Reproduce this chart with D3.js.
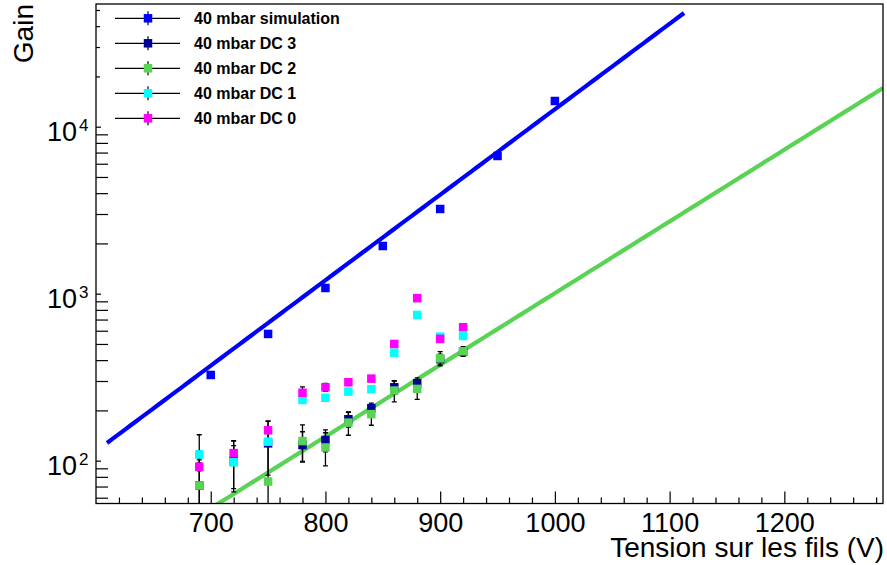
<!DOCTYPE html>
<html>
<head>
<meta charset="utf-8">
<script src="https://cdn.jsdelivr.net/npm/d3@7"></script>
<style>
  html, body { margin: 0; padding: 0; background: #ffffff; }
  text { font-family: "Liberation Sans", Arial, Helvetica, sans-serif; fill: #000; }
</style>
</head>
<body>
<svg id="chart" width="887" height="565"></svg>
<script>
// Wire voltages (V) for the measured detector channels and the simulation
const dcVoltage  = [690, 720, 750, 780, 800, 820, 840, 860, 880, 900, 920];
const simVoltage = [700, 750, 800, 850, 900, 950, 1000];

// Gain values and their uncertainties
const simGain = [326, 574, 1082, 1930, 3215, 6677, 14255];
const simErr  = [10, 16, 25, 40, 60, 120, 250];

const dc3Gain = [71, 100, 127, 124, 133, 177, 206, 275, 291, 405, 450];
const dc3Err  = [30, 32, 45, 25, 20, 18, 15, 25, 22, 30, 25];

const dc2Gain = [71, 98, 75, 131, 120, 169, 190, 263, 269, 410, 452];
const dc2Err  = [72, 33, 50, 33, 27, 27, 27, 38, 36, 40, 30];

const dc1Gain = [109, 98, 130, 231, 238, 259, 268, 443, 746, 553, 558];
const dc1Err  = [5, 4, 5, 0, 0, 0, 0, 0, 0, 0, 0];

const dc0Gain = [92, 111, 152, 255, 275, 295, 310, 500, 940, 536, 630];
const dc0Err  = [5, 12, 21, 22, 15, 12, 12, 0, 0, 0, 0];

// Exponential fits: gain = exp(p0 + p1 * V)
const simFit = { p0: -2.3367, p1: 0.011788, from: 609.6, to: 1112.6 };
const dcFit  = { p0: -2.9750, p1: 0.009890, from: 600,   to: 1286 };

// Axis ticks and labels
const xMajorTicks = [700, 800, 900, 1000, 1100, 1200];
const xTickLabels = ["700", "800", "900", "1000", "1100", "1200"];
const yDecades    = [100, 1000, 10000];
const yExponents  = ["2", "3", "4"];
const yMinorLong  = [60, 70, 80, 90, 200, 300, 400, 500, 600, 700, 800, 900,
                     2000, 3000, 4000, 5000, 6000, 7000, 8000, 9000];
const yMinorShort = [20000, 30000, 40000, 50000];

const legendNames  = ["40 mbar simulation", "40 mbar DC 3", "40 mbar DC 2", "40 mbar DC 1", "40 mbar DC 0"];
const legendColors = ["#0000ff", "#000099", "#59d354", "#00ffff", "#ff00ff"];

const xLabel = "Tension sur les fils (V)";
const yLabel = "Gain";

// ---------------------------------------------------------------------------
const svg = d3.select("#chart");
const frame = { left: 96, right: 883, top: 4, bottom: 503.5 };

const x = d3.scaleLinear().domain([600, 1286]).range([frame.left, frame.right]);
const y = d3.scaleLog().domain([55.4, 54300]).range([frame.bottom, frame.top]);

svg.append("defs").append("clipPath").attr("id", "plotClip")
  .append("rect")
  .attr("x", frame.left).attr("y", frame.top)
  .attr("width", frame.right - frame.left).attr("height", frame.bottom - frame.top);

// Bottom axis: minor ticks every 20 V, major every 100 V
const xMinorTicks = d3.range(620, 1286, 20).filter(v => v % 100 !== 0);
svg.append("g")
  .attr("transform", `translate(0,${frame.bottom})`)
  .call(d3.axisBottom(x).tickValues(xMinorTicks).tickSize(-6).tickFormat(""))
  .call(g => g.select(".domain").remove())
  .call(g => g.selectAll("line").attr("stroke", "#000").attr("stroke-width", 1.2));

const xAxisMajor = svg.append("g")
  .attr("transform", `translate(0,${frame.bottom})`)
  .call(d3.axisBottom(x).tickValues(xMajorTicks).tickSize(-12)
    .tickFormat((d, i) => xTickLabels[i]))
  .call(g => g.select(".domain").remove())
  .call(g => g.selectAll("line").attr("stroke", "#000").attr("stroke-width", 1.2));
xAxisMajor.selectAll("text")
  .attr("y", 28.5).attr("dy", null)
  .attr("font-size", 27).attr("fill", "#000")
  .style("font-family", '"Liberation Sans", Arial, Helvetica, sans-serif');

// Left axis (log)
function yTicks(values, len) {
  svg.append("g")
    .attr("transform", `translate(${frame.left},0)`)
    .call(d3.axisLeft(y).tickValues(values).tickSize(-len).tickFormat(""))
    .call(g => g.select(".domain").remove())
    .call(g => g.selectAll("line").attr("stroke", "#000").attr("stroke-width", 1.2));
}
yTicks(yMinorLong, 12);
yTicks(yDecades, 5);
yTicks(yMinorShort, 4);

const yLab = svg.append("g");
yDecades.forEach((d, i) => {
  const yy = y(d);
  yLab.append("text")
    .attr("x", 77).attr("y", yy + 14)
    .attr("text-anchor", "end").attr("font-size", 27)
    .text("10");
  yLab.append("text")
    .attr("x", 79).attr("y", yy + 4)
    .attr("text-anchor", "start").attr("font-size", 17)
    .text(yExponents[i]);
});

// Axis titles
svg.append("text")
  .attr("x", 884).attr("y", 557)
  .attr("text-anchor", "end").attr("font-size", 28)
  .text(xLabel);
svg.append("text")
  .attr("transform", "translate(33,4) rotate(-90)")
  .attr("text-anchor", "end").attr("font-size", 28)
  .text(yLabel);

// Plot content
const plot = svg.append("g").attr("clip-path", "url(#plotClip)");

function fitLine(fit, color) {
  const pts = d3.range(0, 101).map(k => fit.from + (fit.to - fit.from) * k / 100);
  const line = d3.line()
    .x(v => x(v))
    .y(v => y(Math.exp(fit.p0 + fit.p1 * v)));
  plot.append("path").datum(pts)
    .attr("d", line)
    .attr("fill", "none")
    .attr("stroke", color)
    .attr("stroke-width", 4.2);
}

function errorBars(vs, gains, errs) {
  const g = plot.append("g").attr("stroke", "#000").attr("stroke-width", 1.3);
  vs.forEach((v, i) => {
    const e = errs[i];
    if (!e) return;
    const px = x(v);
    const hi = y(gains[i] + e);
    const loVal = gains[i] - e;
    const lo = loVal > 1 ? y(loVal) : frame.bottom + 10;
    g.append("line").attr("x1", px).attr("x2", px).attr("y1", hi).attr("y2", lo);
    g.append("line").attr("x1", px - 2.5).attr("x2", px + 2.5).attr("y1", hi).attr("y2", hi);
    if (loVal > 1) g.append("line").attr("x1", px - 2.5).attr("x2", px + 2.5).attr("y1", lo).attr("y2", lo);
  });
}

function markers(vs, gains, color) {
  const s = 8.5;
  plot.append("g").selectAll("rect")
    .data(vs.map((v, i) => [v, gains[i]]))
    .join("rect")
    .attr("x", d => x(d[0]) - s / 2)
    .attr("y", d => y(d[1]) - s / 2)
    .attr("width", s).attr("height", s)
    .attr("fill", color);
}

fitLine(simFit, legendColors[0]);
fitLine(dcFit, legendColors[2]);

errorBars(simVoltage, simGain, simErr);
markers(simVoltage, simGain, legendColors[0]);

const dcSeries = [
  [dc3Gain, dc3Err, legendColors[1]],
  [dc2Gain, dc2Err, legendColors[2]],
  [dc1Gain, dc1Err, legendColors[3]],
  [dc0Gain, dc0Err, legendColors[4]]
];
dcSeries.forEach(([g, e]) => errorBars(dcVoltage, g, e));
dcSeries.forEach(([g, e, c]) => markers(dcVoltage, g, c));

// Frame
svg.append("rect")
  .attr("x", frame.left).attr("y", frame.top)
  .attr("width", frame.right - frame.left).attr("height", frame.bottom - frame.top)
  .attr("fill", "none").attr("stroke", "#000").attr("stroke-width", 1.3);

// Legend
const legend = svg.append("g");
legendNames.forEach((name, i) => {
  const cy = 18.3 + i * 25;
  legend.append("line").attr("x1", 115).attr("x2", 180).attr("y1", cy).attr("y2", cy)
    .attr("stroke", "#000").attr("stroke-width", 1.2);
  legend.append("line").attr("x1", 148).attr("x2", 148).attr("y1", cy - 7).attr("y2", cy + 7)
    .attr("stroke", "#000").attr("stroke-width", 1.2);
  legend.append("rect").attr("x", 148 - 4.25).attr("y", cy - 4.25)
    .attr("width", 8.5).attr("height", 8.5).attr("fill", legendColors[i]);
  legend.append("text")
    .attr("x", 194).attr("y", cy + 6)
    .attr("font-size", 16).attr("font-weight", "bold")
    .text(name);
});
</script>
</body>
</html>
